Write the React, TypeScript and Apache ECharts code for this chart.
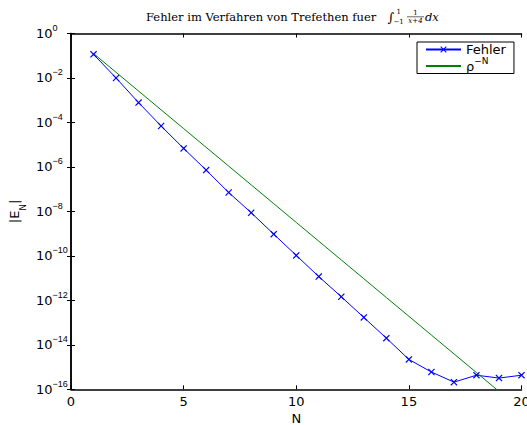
import React, { useEffect, useRef } from "react";
import * as echarts from "echarts";

// Polynomial degree N
const N_VALUES = [1, 2, 3, 4, 5, 6, 7, 8, 9, 10, 11, 12, 13, 14, 15, 16, 17, 18, 19, 20];

// Quadrature error |E_N|
const FEHLER = [
  1.16e-1, 1.0e-2, 7.8e-4, 6.9e-5, 6.8e-6, 7.2e-7, 7.1e-8, 8.7e-9, 9.5e-10, 1.05e-10,
  1.17e-11, 1.45e-12, 1.7e-13, 2.0e-14, 2.2e-15, 6.0e-16, 2.1e-16, 4.3e-16, 3.2e-16, 4.3e-16,
];

// Reference decay rho^-N
const RHO_POW = [
  1.26e-1, 1.8e-2, 2.58e-3, 3.7e-4, 5.3e-5, 7.59e-6, 1.09e-6, 1.56e-7, 2.23e-8, 3.19e-9,
  4.57e-10, 6.55e-11, 9.38e-12, 1.34e-12, 1.92e-13, 2.75e-14, 3.94e-15, 5.65e-16, 8.09e-17, 1.16e-17,
];

const X_MIN = 0;
const X_MAX = 20;
const X_STEP = 5;
const Y_MIN = 1e-16;
const Y_MAX = 1;
const Y_DECADE_STEP = 2;

const SERIES_FEHLER = "Fehler";
const SERIES_RHO = "ρ^−N";

const SANS = '"DejaVu Sans", sans-serif';
const SUP = '"Liberation Sans", Arial, sans-serif';
const SERIF = '"DejaVu Serif", serif';
const CROSS =
  "path://M0,1.2L1.2,0L5,3.8L8.8,0L10,1.2L6.2,5L10,8.8L8.8,10L5,6.2L1.2,10L0,8.8L3.8,5Z";

const pairs = (ys: number[]) => N_VALUES.map((n, i) => [n, ys[i]]);

const powerLabel = (v: number) => {
  const e = Math.round(Math.log10(v));
  return `{b|10}{s|${e < 0 ? "\u2212" + -e : String(e)}}`;
};

const tickRich = {
  b: { fontFamily: SANS, fontSize: 13, lineHeight: 20, color: "#000" },
  s: { fontFamily: SUP, fontSize: 9, lineHeight: 7, verticalAlign: "top", color: "#000" },
};

const frame = { show: true, lineStyle: { color: "#000", width: 1.5 } };
const innerTicks = { show: true, inside: true, length: 4, lineStyle: { color: "#000", width: 1 } };

export default function App() {
  const ref = useRef<HTMLDivElement>(null);

  useEffect(() => {
    if (!ref.current) return;
    const chart = echarts.init(ref.current, null, { renderer: "svg" });

    const titleY = 16.5;
    chart.setOption({
      animation: false,
      backgroundColor: "#fff",
      grid: {
        left: 71,
        right: 5.5,
        top: 33.5,
        bottom: 35.7,
        containLabel: false,
        outerBoundsMode: "none",
      },
      graphic: [
        {
          type: "text",
          x: 146,
          y: titleY,
          style: {
            text: "Fehler im Verfahren von Trefethen fuer",
            font: `11.5px ${SERIF}`,
            fill: "#000",
            align: "left",
            verticalAlign: "middle",
          },
        },
        {
          type: "text",
          x: 387.5,
          y: 17,
          style: { text: "∫", font: `13px ${SERIF}`, fill: "#000", align: "left", verticalAlign: "middle" },
        },
        {
          type: "text",
          x: 396.5,
          y: 12,
          style: { text: "1", font: `7px ${SERIF}`, fill: "#000", align: "left", verticalAlign: "middle" },
        },
        {
          type: "text",
          x: 393.5,
          y: 22,
          style: { text: "\u22121", font: `7px ${SERIF}`, fill: "#000", align: "left", verticalAlign: "middle" },
        },
        {
          type: "text",
          x: 415.5,
          y: 13,
          style: { text: "1", font: `7px ${SERIF}`, fill: "#000", align: "center", verticalAlign: "middle" },
        },
        {
          type: "line",
          shape: { x1: 407, y1: 16.8, x2: 424, y2: 16.8 },
          style: { stroke: "#000", lineWidth: 0.6 },
        },
        {
          type: "text",
          x: 415.5,
          y: 20.6,
          style: { text: "x+4", font: `italic 7px ${SERIF}`, fill: "#000", align: "center", verticalAlign: "middle" },
        },
        {
          type: "text",
          x: 425,
          y: titleY,
          style: { text: "dx", font: `italic 11.5px ${SERIF}`, fill: "#000", align: "left", verticalAlign: "middle" },
        },
      ],
      legend: {
        left: 417,
        top: 42,
        orient: "vertical",
        selectedMode: false,
        padding: [1, 8, 1, 8],
        itemGap: 0,
        itemWidth: 35,
        itemHeight: 8,
        backgroundColor: "#fff",
        borderColor: "#000",
        borderWidth: 1,
        data: [{ name: SERIES_FEHLER }, { name: SERIES_RHO, itemStyle: { opacity: 0 } }],
        formatter: (name: string) => (name === SERIES_RHO ? "{b|ρ}{s|\u2212N}" : `{b|${name}}`),
        textStyle: {
          fontFamily: SANS,
          fontSize: 13,
          color: "#000",
          rich: {
            b: { fontFamily: SANS, fontSize: 13, lineHeight: 20, color: "#000" },
            s: { fontFamily: SANS, fontSize: 9, lineHeight: 5, verticalAlign: "top", color: "#000" },
          },
        },
      },
      xAxis: [
        {
          type: "value",
          min: X_MIN,
          max: X_MAX,
          interval: X_STEP,
          name: "N",
          nameLocation: "middle",
          nameGap: 22.5,
          nameMoveOverlap: false,
          nameTextStyle: { fontFamily: SANS, fontSize: 13, lineHeight: 13, color: "#000" },
          axisLine: frame,
          axisTick: innerTicks,
          splitLine: { show: false },
          axisLabel: { fontFamily: SANS, fontSize: 13, color: "#000", margin: 6, showMaxLabel: true },
        },
        {
          type: "value",
          position: "top",
          min: X_MIN,
          max: X_MAX,
          interval: X_STEP,
          axisLine: frame,
          axisTick: innerTicks,
          splitLine: { show: false },
          axisLabel: { show: false },
        },
      ],
      yAxis: [
        {
          type: "log",
          logBase: 10,
          min: Y_MIN,
          max: Y_MAX,
          interval: Y_DECADE_STEP,
          name: "{a||E}{n|N}{a||}",
          nameLocation: "middle",
          nameGap: 44,
          nameMoveOverlap: false,
          nameTextStyle: {
            rich: {
              a: { fontFamily: SANS, fontSize: 13, lineHeight: 26, color: "#000" },
              n: { fontFamily: SANS, fontSize: 9, lineHeight: 9, verticalAlign: "bottom", color: "#000" },
            },
          },
          axisLine: frame,
          axisTick: innerTicks,
          minorTick: { show: false },
          splitLine: { show: false },
          axisLabel: {
            align: "left",
            margin: 35,
            showMinLabel: true,
            showMaxLabel: true,
            formatter: powerLabel,
            rich: tickRich,
          },
        },
        {
          type: "log",
          logBase: 10,
          position: "right",
          min: Y_MIN,
          max: Y_MAX,
          interval: Y_DECADE_STEP,
          axisLine: frame,
          axisTick: innerTicks,
          splitLine: { show: false },
          axisLabel: { show: false },
        },
      ],
      series: [
        {
          name: SERIES_FEHLER,
          type: "line",
          xAxisIndex: 0,
          yAxisIndex: 0,
          data: pairs(FEHLER),
          symbol: CROSS,
          symbolSize: 7,
          showAllSymbol: true,
          silent: true,
          clip: true,
          lineStyle: { color: "#0000ff", width: 1 },
          itemStyle: { color: "#0000ff" },
          emphasis: { disabled: true },
        },
        {
          name: SERIES_RHO,
          type: "line",
          xAxisIndex: 0,
          yAxisIndex: 0,
          data: pairs(RHO_POW),
          symbol: "none",
          silent: true,
          clip: true,
          lineStyle: { color: "#008000", width: 1 },
          itemStyle: { color: "#008000" },
          emphasis: { disabled: true },
        },
      ],
    });

    return () => chart.dispose();
  }, []);

  return (
    <div
      ref={ref}
      style={{ position: "fixed", left: 0, top: 0, width: 527, height: 425, background: "#fff" }}
    />
  );
}
